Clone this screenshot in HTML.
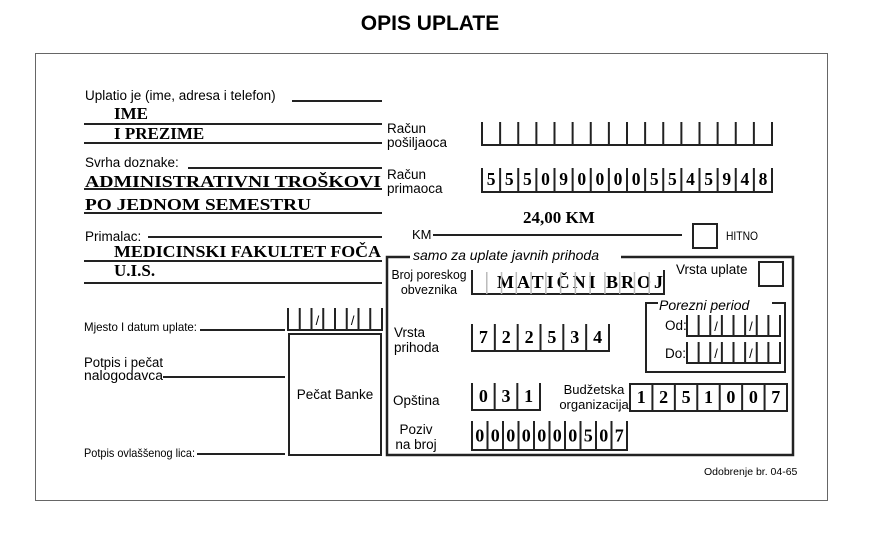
<!DOCTYPE html>
<html><head><meta charset="utf-8"><style>
html,body{margin:0;padding:0;background:#fff;}
body{width:894px;height:551px;overflow:hidden;}
svg text{font-family:"Liberation Sans",sans-serif;}
.s{font-family:"Liberation Serif",serif !important;font-weight:bold;}
</style></head><body>
<svg id="g" width="894" height="551" xmlns="http://www.w3.org/2000/svg">
<text x="430" y="30" text-anchor="middle" font-size="21" font-weight="bold">OPIS UPLATE</text>
<rect x="35.5" y="53.5" width="792" height="447" fill="none" stroke="#666" stroke-width="1"/>
<g stroke="#222" stroke-width="2" fill="none">
<line x1="292" y1="101" x2="382" y2="101"/>
<line x1="84" y1="124" x2="382" y2="124"/>
<line x1="84" y1="143" x2="382" y2="143"/>
<line x1="188" y1="168" x2="382" y2="168"/>
<line x1="84" y1="189" x2="382" y2="189"/>
<line x1="84" y1="213" x2="382" y2="213"/>
<line x1="148" y1="237" x2="382" y2="237"/>
<line x1="84" y1="261" x2="382" y2="261"/>
<line x1="84" y1="283" x2="382" y2="283"/>
<line x1="200" y1="330" x2="285" y2="330"/>
<line x1="163" y1="377" x2="285" y2="377"/>
<line x1="197" y1="454" x2="285" y2="454"/>
<line x1="433" y1="235" x2="682" y2="235"/>
<rect x="693" y="224" width="24" height="24"/>
<rect x="759" y="262" width="24" height="24"/>
<rect x="289" y="334" width="92" height="121"/>
<path d="M410 257 H387 V455 H793 V257 H621" stroke-width="2.5"/>
<path d="M658 303 H646 V372 H785 V303 H772"/>
<rect x="630" y="384" width="157" height="27"/>
</g>
<text x="85" y="100" font-size="13.5">Uplatio je (ime, adresa i telefon)</text>
<text x="114" y="119" font-size="17" class="s">IME</text>
<text x="114" y="139" font-size="17" class="s">I PREZIME</text>
<text x="85" y="167" font-size="13.5">Svrha doznake:</text>
<text x="85" y="187" font-size="17" class="s" textLength="296" lengthAdjust="spacingAndGlyphs">ADMINISTRATIVNI TROŠKOVI</text>
<text x="85" y="210" font-size="17" class="s" textLength="226" lengthAdjust="spacingAndGlyphs">PO JEDNOM SEMESTRU</text>
<text x="85" y="241" font-size="13.5">Primalac:</text>
<text x="114" y="257" font-size="17" class="s" textLength="267" lengthAdjust="spacingAndGlyphs">MEDICINSKI FAKULTET FOČA</text>
<text x="114" y="276" font-size="17" class="s">U.I.S.</text>
<text x="387" y="133" font-size="13.5">Račun</text>
<text x="387" y="147" font-size="13.5">pošiljaoca</text>
<text x="387" y="179" font-size="13.5">Račun</text>
<text x="387" y="193" font-size="13.5">primaoca</text>
<text x="523" y="223" font-size="17" class="s">24,00  KM</text>
<text x="412" y="239" font-size="13">KM</text>
<text x="726" y="240" font-size="12" textLength="32" lengthAdjust="spacingAndGlyphs">HITNO</text>
<text x="413" y="260" font-size="14" font-style="italic">samo za uplate javnih prihoda</text>
<text x="429" y="279" font-size="12.5" text-anchor="middle" textLength="75" lengthAdjust="spacingAndGlyphs">Broj poreskog</text>
<text x="429" y="294" font-size="12.5" text-anchor="middle">obveznika</text>
<text x="676" y="274" font-size="13.5">Vrsta uplate</text>
<text x="659" y="310" font-size="14" font-style="italic">Porezni period</text>
<text x="665" y="330" font-size="13.5">Od:</text>
<text x="665" y="358" font-size="13.5">Do:</text>
<text x="394" y="337" font-size="13.5">Vrsta</text>
<text x="394" y="352" font-size="13.5">prihoda</text>
<text x="393" y="405" font-size="13.5">Opština</text>
<text x="594" y="394" font-size="13" text-anchor="middle">Budžetska</text>
<text x="594" y="409" font-size="13" text-anchor="middle">organizacija</text>
<text x="416" y="434" font-size="13.5" text-anchor="middle">Poziv</text>
<text x="416" y="449" font-size="13.5" text-anchor="middle">na broj</text>
<text x="704" y="475" font-size="10.5">Odobrenje br. 04-65</text>
<text x="84" y="331" font-size="12" textLength="113" lengthAdjust="spacingAndGlyphs">Mjesto I datum uplate:</text>
<text x="84" y="367" font-size="13.5" textLength="79" lengthAdjust="spacingAndGlyphs">Potpis i pečat</text>
<text x="84" y="380" font-size="13.5" textLength="79" lengthAdjust="spacingAndGlyphs">nalogodavca</text>
<text x="84" y="457" font-size="12" textLength="111" lengthAdjust="spacingAndGlyphs">Potpis ovlaššenog lica:</text>
<text x="335" y="399" font-size="13.5" text-anchor="middle">Pečat Banke</text>
<text x="497" y="288" font-size="18" class="s" textLength="166" lengthAdjust="spacing">MATIČNI BROJ</text>
</svg>
<script>
var S=document.getElementById('g'),NS='http://www.w3.org/2000/svg';
function el(t,a){var e=document.createElementNS(NS,t);for(var k in a)e.setAttribute(k,a[k]);S.appendChild(e);return e;}
function cells(x1,x2,y1,y2,n,vals,fs,slash,grey){
 var w=(x2-x1)/n;
 el('path',{d:'M'+x1+' '+y1+' V'+y2+' H'+x2+' V'+y1,stroke:'#222','stroke-width':2,fill:'none'});
 for(var i=1;i<n;i++){var x=x1+w*i;el('line',{x1:x,y1:grey?y1+2:y1,x2:x,y2:y2,stroke:grey?'#bbb':'#222','stroke-width':grey?1.5:2});}
 if(vals)for(var i=0;i<vals.length;i++){var t=el('text',{x:x1+w*i+w/2,y:y2-(y2-y1)*0.3,'font-size':fs,'text-anchor':'middle','class':'s'});t.textContent=vals[i];}
 if(slash)slash.forEach(function(i){var t=el('text',{x:x1+w*i+w/2,y:y2-5,'font-size':13,'text-anchor':'middle'});t.textContent='/';});
}
cells(482,772,122,145,16,null);
cells(482,772,168,192,16,'5550900005545948'.split(''),17.5);
cells(472,664,270,294,13,null,0,null,true);
cells(687,780,315,336,8,null,0,[2,5]);
cells(687,780,342,363,8,null,0,[2,5]);
cells(288,382,308,330,8,null,0,[2,5]);
cells(472,609,324,351,6,'722534'.split(''),18);
cells(472,540,383,410,3,'031'.split(''),18);
cells(630,787,384,411,7,'1251007'.split(''),18);
cells(472,627,421,450,10,'0000000507'.split(''),18);
</script>
</body></html>
